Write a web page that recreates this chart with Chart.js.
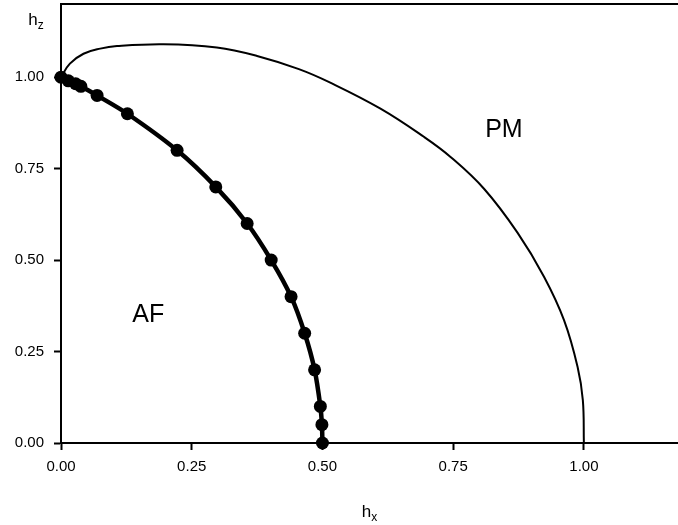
<!DOCTYPE html>
<html lang="en">
<head>
    <meta charset="UTF-8">
    <title>Phase diagram</title>
    <script src="https://cdn.jsdelivr.net/npm/chart.js"></script>
    <style>
        html, body {
            margin: 0;
            padding: 0;
            background: #fff;
        }
        #wrap {
            width: 678px;
            height: 525px;
        }
    </style>
</head>
<body>
    <div id="wrap">
        <canvas id="phaseChart" width="678" height="525"></canvas>
    </div>

    <script>
        // PM / AF boundary (thin curve)
        const pmHx = [0, 0.017, 0.043, 0.075, 0.107, 0.196, 0.298, 0.375, 0.455, 0.515, 0.611, 0.694, 0.745, 0.809, 0.873, 0.924, 0.962, 0.988, 0.998, 1.0];
        const pmHz = [1.0, 1.037, 1.064, 1.078, 1.085, 1.090, 1.081, 1.058, 1.022, 0.985, 0.914, 0.837, 0.782, 0.695, 0.575, 0.454, 0.336, 0.208, 0.117, 0];

        // AF boundary with computed points
        const afHx = [0, 0.014, 0.028, 0.038, 0.069, 0.127, 0.222, 0.296, 0.356, 0.402, 0.440, 0.466, 0.485, 0.496, 0.499, 0.500];
        const afHz = [1.0, 0.99, 0.982, 0.975, 0.95, 0.90, 0.80, 0.70, 0.60, 0.50, 0.40, 0.30, 0.20, 0.10, 0.05, 0.0];

        const xTicks = [0, 0.25, 0.5, 0.75, 1.0];
        const yTicks = [0, 0.25, 0.5, 0.75, 1.0];

        const toPoints = (xs, ys) => xs.map((x, i) => ({ x: x, y: ys[i] }));

        const FONT = '"Liberation Sans", Arial, sans-serif';

        // fixed axis sizes, no extra label padding around the plot
        const fixSize = (w, h) => (s) => {
            if (w !== null) s.width = w;
            if (h !== null) s.height = h;
            s.paddingTop = 0;
            s.paddingBottom = 0;
            s.paddingLeft = 0;
            s.paddingRight = 0;
        };

        // region names and axis symbols drawn on top
        const textPlugin = {
            id: 'phaseText',
            afterDraw(chart) {
                const ctx = chart.ctx;
                const xs = chart.scales.x;
                const ys = chart.scales.y;
                const area = chart.chartArea;
                ctx.save();
                ctx.fillStyle = '#000';
                ctx.textAlign = 'center';
                ctx.textBaseline = 'middle';
                ctx.font = '25px ' + FONT;
                ctx.fillText('PM', xs.getPixelForValue(0.847), ys.getPixelForValue(0.855));
                ctx.fillText('AF', xs.getPixelForValue(0.167), ys.getPixelForValue(0.35));

                // axis symbols with subscripts
                const symbol = (base, sub, cx, cy) => {
                    ctx.font = '17px ' + FONT;
                    const w1 = ctx.measureText(base).width;
                    ctx.font = '12px ' + FONT;
                    const w2 = ctx.measureText(sub).width;
                    const left = cx - (w1 + w2) / 2;
                    ctx.textAlign = 'left';
                    ctx.textBaseline = 'alphabetic';
                    ctx.font = '17px ' + FONT;
                    ctx.fillText(base, left, cy);
                    ctx.font = '12px ' + FONT;
                    ctx.fillText(sub, left + w1, cy + 4);
                };
                symbol('h', 'x', (area.left + area.right) / 2, 517);
                symbol('h', 'z', 36, 25);
                ctx.restore();
            }
        };

        new Chart(document.getElementById('phaseChart'), {
            type: 'scatter',
            data: {
                datasets: [{
                    label: 'PM',
                    data: toPoints(pmHx, pmHz),
                    showLine: true,
                    borderColor: '#000',
                    borderWidth: 2,
                    pointRadius: 0,
                    tension: 0.4,
                    clip: false
                }, {
                    label: 'AF',
                    data: toPoints(afHx, afHz),
                    showLine: true,
                    borderColor: '#000',
                    backgroundColor: '#000',
                    borderWidth: 4.5,
                    pointRadius: 6.5,
                    pointBackgroundColor: '#000',
                    pointBorderWidth: 0,
                    tension: 0.3,
                    clip: false
                }]
            },
            options: {
                responsive: false,
                animation: false,
                layout: {
                    autoPadding: false,
                    padding: { top: 4, right: 0, bottom: 0, left: 0 }
                },
                plugins: {
                    legend: { display: false },
                    tooltip: { enabled: false }
                },
                scales: {
                    x: {
                        type: 'linear',
                        min: 0,
                        max: 1.18,
                        afterBuildTicks: (s) => { s.ticks = xTicks.map(v => ({ value: v })); },
                        afterFit: fixSize(null, 82),
                        border: { display: true, color: '#000', width: 2 },
                        grid: {
                            display: true,
                            drawOnChartArea: false,
                            drawTicks: true,
                            tickLength: 7,
                            tickWidth: 2,
                            tickColor: '#000'
                        },
                        ticks: {
                            color: '#000',
                            padding: 8,
                            maxRotation: 0,
                            font: { family: FONT, size: 15 },
                            callback: (v) => Number(v).toFixed(2)
                        }
                    },
                    x2: {
                        type: 'linear',
                        position: 'top',
                        min: 0,
                        max: 1.18,
                        afterFit: fixSize(null, 0),
                        border: { display: true, color: '#000', width: 2 },
                        grid: { display: false },
                        ticks: { display: false }
                    },
                    y: {
                        type: 'linear',
                        min: 0,
                        max: 1.2,
                        afterBuildTicks: (s) => { s.ticks = yTicks.map(v => ({ value: v })); },
                        afterFit: fixSize(61, null),
                        border: { display: true, color: '#000', width: 2 },
                        grid: {
                            display: true,
                            drawOnChartArea: false,
                            drawTicks: true,
                            tickLength: 7,
                            tickWidth: 2,
                            tickColor: '#000'
                        },
                        ticks: {
                            color: '#000',
                            padding: 10,
                            font: { family: FONT, size: 15 },
                            callback: (v) => Number(v).toFixed(2)
                        }
                    }
                }
            },
            plugins: [textPlugin]
        });
    </script>
</body>
</html>
